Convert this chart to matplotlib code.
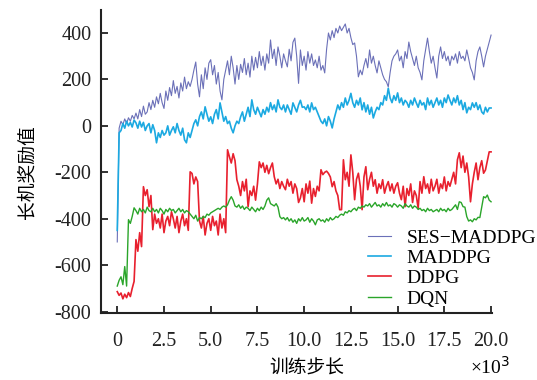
import numpy as np
import matplotlib
matplotlib.use("Agg")
import matplotlib.pyplot as plt

plt.rcParams['font.family'] = ['Liberation Serif', 'Noto Sans CJK SC', 'DejaVu Sans']
plt.rcParams['axes.unicode_minus'] = False

# training steps (x 10^3)
steps = np.round(np.arange(0, 20.01, 0.1), 1)

ses_maddpg = [
    -500, -10, 20, 5, 30, 10, 35, 20, 45, 30,
    55, 30, 70, 40, 85, 50, 60, 100, 70, 110,
    80, 125, 95, 140, 100, 75, 150, 110, 165, 130,
    195, 140, 170, 120, 185, 150, 210, 160, 190, 170,
    200, 240, 275, 180, 125, 220, 160, 250, 200, 270,
    285, 220, 260, 180, 230, 150, 112, 200, 240, 280,
    220, 300, 250, 180, 260, 200, 265, 230, 290, 220,
    270, 210, 300, 240, 295, 250, 320, 260, 300, 240,
    310, 270, 370, 290, 330, 260, 340, 300, 250, 310,
    280, 254, 330, 280, 360, 378, 300, 183, 327, 260,
    300, 240, 320, 270, 310, 260, 284, 250, 300, 240,
    260, 228, 330, 400, 370, 410, 380, 420, 400, 430,
    410, 425, 439, 400, 420, 380, 350, 357, 300, 211,
    240, 220, 260, 290, 250, 327, 270, 300, 260, 228,
    280, 250, 220, 200, 190, 168, 230, 280, 300, 310,
    327, 280, 300, 250, 320, 290, 361, 320, 290, 260,
    300, 250, 230, 198, 280, 330, 378, 320, 270, 300,
    250, 206, 300, 340, 290, 320, 280, 300, 260, 300,
    284, 310, 270, 320, 290, 300, 280, 327, 290, 250,
    230, 198, 280, 320, 340, 300, 254, 300, 330, 360,
    391]

maddpg = [
    -450, -30, -20, 10, -10, 20, 0, 15, -5, 25,
    13, -10, 20, -5, 15, -20, 0, 10, -30, 5,
    -20, -73, -30, -50, -20, -40, -30, 0, -40, -20,
    -4, -30, 10, -20, -40, -10, -60, -73, -30, -50,
    -20, 10, 26, 0, 40, 60, 30, 82, 50, 20,
    39, 10, 50, 70, 30, 99, 60, 20, 40, 10,
    20, -10, -30, 0, 20, 10, 39, 60, 20, 50,
    80, 40, 112, 70, 50, 80, 60, 39, 70, 50,
    80, 60, 100, 70, 90, 60, 112, 80, 70, 90,
    60, 90, 70, 50, 99, 80, 60, 90, 110, 80,
    82, 70, 90, 60, 99, 70, 80, 60, 40, 20,
    10, 30, 0, 40, 20, -9, 30, 60, 90, 70,
    100, 80, 120, 90, 110, 140, 100, 80, 110, 90,
    120, 69, 100, 60, 90, 50, 80, 34, 60, 80,
    70, 100, 90, 130, 110, 162, 120, 100, 130, 110,
    142, 100, 120, 90, 110, 100, 80, 110, 90, 120,
    99, 80, 110, 90, 100, 70, 120, 90, 110, 80,
    100, 120, 90, 110, 80, 120, 100, 133, 110, 90,
    120, 100, 130, 90, 110, 70, 100, 56, 80, 70,
    99, 80, 100, 70, 90, 60, 51, 80, 60, 77,
    77]

ddpg = [
    -714, -730, -720, -745, -725, -740, -718, -735, -700, -670,
    -490, -540, -460, -520, -262, -300, -275, -348, -300, -447,
    -380, -420, -400, -440, -380, -460, -410, -390, -430, -370,
    -400, -440, -390, -460, -410, -380, -430, -400, -450, -198,
    -205, -250, -220, -240, -410, -440, -390, -470, -420, -400,
    -450, -390, -430, -410, -470, -380, -440, -400, -460, -103,
    -133, -160, -120, -150, -232, -260, -300, -240, -280, -230,
    -348, -280, -300, -260, -320, -250, -155, -180, -160, -200,
    -170, -206, -180, -160, -219, -250, -230, -270, -240, -260,
    -275, -230, -260, -240, -290, -250, -270, -330, -310, -270,
    -327, -250, -290, -238, -333, -270, -304, -260, -280, -189,
    -210, -200, -195, -205, -220, -262, -240, -280, -300, -361,
    -361, -146, -232, -200, -260, -125, -200, -318, -230, -204,
    -260, -361, -220, -176, -275, -230, -200, -260, -232, -290,
    -250, -270, -232, -290, -260, -240, -280, -250, -290, -260,
    -245, -290, -318, -260, -348, -270, -300, -250, -330, -280,
    -300, -355, -240, -290, -219, -270, -250, -290, -230, -280,
    -260, -230, -290, -250, -270, -220, -280, -240, -260, -230,
    -200, -250, -146, -116, -180, -130, -200, -160, -220, -327,
    -250, -200, -160, -232, -180, -150, -204, -190, -150, -112,
    -112]

dqn = [
    -690, -665, -650, -684, -606, -690, -404, -420, -390, -353,
    -365, -380, -355, -370, -360, -375, -350, -365, -370, -355,
    -370, -360, -375, -355, -365, -380, -360, -370, -355, -365,
    -360, -375, -365, -355, -370, -360, -375, -365, -370, -380,
    -390, -400, -385, -410, -395, -400, -390, -395, -380, -385,
    -375, -370, -365, -360, -355, -360, -350, -345, -350, -340,
    -320, -305, -320, -345, -350, -340, -355, -345, -360, -350,
    -355, -365, -350, -360, -370, -355, -365, -350, -360, -345,
    -320, -310, -335, -340, -345, -335, -350, -391, -400, -395,
    -405, -395, -410, -400, -415, -405, -420, -400, -410, -395,
    -410, -405, -395, -415, -400, -410, -426, -405, -400, -410,
    -405, -415, -400, -410, -395, -405, -400, -390, -395, -385,
    -380, -385, -370, -375, -365, -370, -360, -355, -365, -350,
    -355, -345, -350, -340, -345, -335, -350, -340, -330, -345,
    -340, -350, -335, -345, -330, -345, -340, -350, -335, -340,
    -350, -340, -345, -355, -335, -345, -350, -340, -355, -345,
    -350, -360, -355, -365, -360, -370, -355, -365, -360, -370,
    -365, -360, -370, -355, -365, -360, -370, -355, -365, -360,
    -350, -340, -360, -327, -330, -348, -350, -391, -410, -405,
    -413, -400, -405, -394, -395, -350, -305, -310, -298, -320,
    -327]

labels = ['SES\u2212MADDPG', 'MADDPG', 'DDPG', 'DQN']
colors = ['#6b70b8', '#1ba9e1', '#e8202e', '#2aa52a']
widths = [0.8, 1.2, 1.2, 1.0]
x_ticks = [0, 2.5, 5.0, 7.5, 10.0, 12.5, 15.0, 17.5, 20.0]
x_ticklabels = ['0', '2.5', '5.0', '7.5', '10.0', '12.5', '15.0', '17.5', '20.0']
y_ticks = [-800, -600, -400, -200, 0, 200, 400]

fig = plt.figure(figsize=(5.37, 3.8), dpi=100)
ax = fig.add_axes([101/537, 1 - 313/380, (492 - 101)/537, (313 - 10)/380])

for ys, lab, c, lw in zip([ses_maddpg, maddpg, ddpg, dqn], labels, colors, widths):
    ax.plot(steps, ys, color=c, lw=lw, label=lab)

ax.set_xlim(-0.87, 20.05)
ax.set_ylim(-806, 499)
ax.set_xticks(x_ticks)
ax.set_xticklabels(x_ticklabels)
ax.set_yticks(y_ticks)
ax.tick_params(direction='in', length=5, width=1.3, labelsize=14.5, colors='#222222')
ax.tick_params(axis='x', pad=14)
ax.tick_params(axis='y', pad=7)
for s in ['top', 'right']:
    ax.spines[s].set_visible(False)
for s in ['left', 'bottom']:
    ax.spines[s].set_linewidth(1.5)
    ax.spines[s].set_color('#222222')

fig.text(28/537, 1 - 172/380, '长机奖励值', fontsize=13.5, rotation=90,
         ha='center', va='center')
fig.text(307/537, 1 - 369/380, '训练步长', fontsize=13.5, ha='center', va='center')
fig.text(470/537, 1 - 367/380, '\u00d710$^3$', fontsize=14, ha='left', va='center')

leg = ax.legend(loc='upper left', bbox_to_anchor=(368/537, 1 - 229/380),
                bbox_transform=fig.transFigure, frameon=False, fontsize=14,
                handlelength=1.2, handletextpad=0.8, labelspacing=0.14,
                borderpad=0, borderaxespad=0)

fig.savefig('out.png', dpi=100)
